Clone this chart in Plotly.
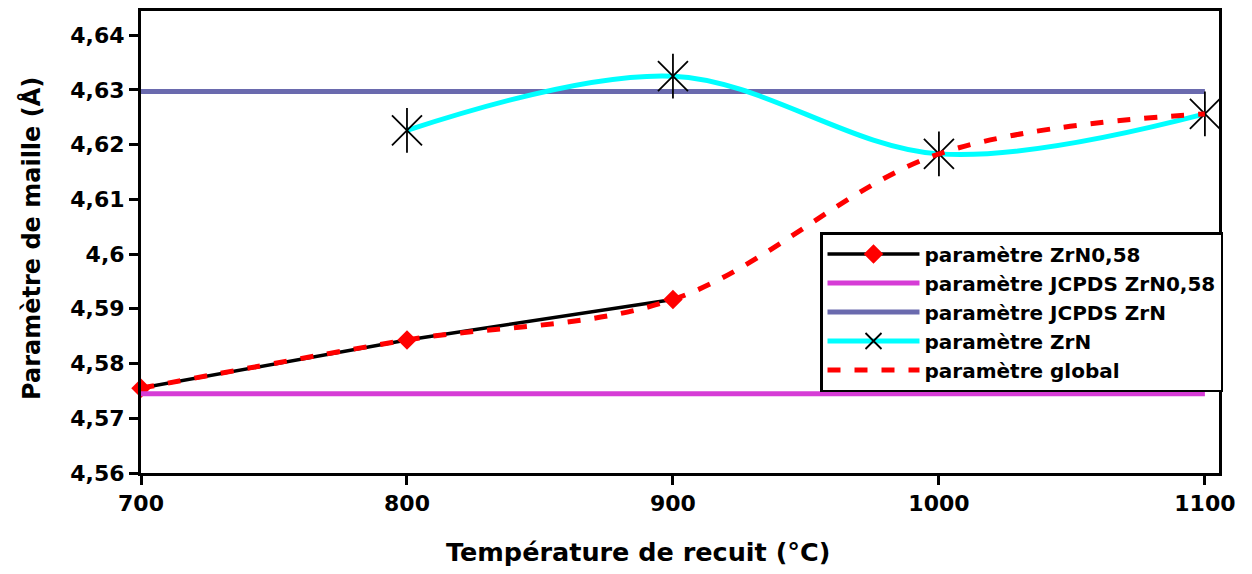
import plotly.graph_objects as go

# ---- data ----
temps = [700, 800, 900, 1000, 1100]
zrn058_x = [700, 800, 900]
zrn058_y = [4.5755, 4.5843, 4.5917]
jcpds_zrn058 = [4.5745, 4.5745, 4.5745, 4.5745, 4.5745]
jcpds_zrn = [4.6297, 4.6297, 4.6297, 4.6297, 4.6297]
zrn_x = [800, 900, 1000, 1100]
zrn_y = [4.6226, 4.6325, 4.6183, 4.6256]
global_y = [4.5755, 4.5843, 4.5917, 4.6183, 4.6256]

y_tickvals = [4.56, 4.57, 4.58, 4.59, 4.60, 4.61, 4.62, 4.63, 4.64]
y_ticktext = ["4,56", "4,57", "4,58", "4,59", "4,6", "4,61", "4,62", "4,63", "4,64"]
x_tickvals = [700, 800, 900, 1000, 1100]

FONT = "DejaVu Sans"
# page body has an 8px default margin; compensate so the plot area lands at 141..1219 x 11..473
OFF = 8
W, H = 1252, 574
L, R, T, B = 141 - OFF, W - (1219 - OFF), 11 - OFF, H - (473 - OFF)
PW, PH = W - L - R, H - T - B

fig = go.Figure()

fig.add_trace(go.Scatter(
    x=zrn058_x, y=zrn058_y, name="paramètre ZrN0,58", mode="lines+markers",
    line=dict(color="black", width=3.5), cliponaxis=False,
    marker=dict(symbol="diamond", color="#FF0000", size=15),
))
fig.add_trace(go.Scatter(
    x=temps, y=jcpds_zrn058, name="paramètre JCPDS ZrN0,58", mode="lines",
    line=dict(color="#D63CD6", width=5),
))
fig.add_trace(go.Scatter(
    x=temps, y=jcpds_zrn, name="paramètre JCPDS ZrN", mode="lines",
    line=dict(color="#6A6AAE", width=5),
))
fig.add_trace(go.Scatter(
    x=zrn_x, y=zrn_y, name="paramètre ZrN", mode="lines+markers",
    line=dict(color="#00FFFF", width=5, shape="spline", smoothing=1),
    marker=dict(symbol="x-thin-open", color="black", size=30,
                line=dict(color="black", width=1.8)),
))
fig.add_trace(go.Scatter(
    x=zrn_x, y=zrn_y, name="", mode="markers", showlegend=False, hoverinfo="skip",
    marker=dict(symbol="line-ns-open", color="black", size=32,
                line=dict(color="black", width=1.8)),
))
fig.add_trace(go.Scatter(
    x=temps, y=global_y, name="paramètre global", mode="lines",
    line=dict(color="#FF0000", width=5, dash="13px,14px", shape="spline", smoothing=1),
))

fig.update_layout(
    width=W, height=H,
    margin=dict(l=L, r=R, t=T, b=B, autoexpand=False),
    paper_bgcolor="white", plot_bgcolor="white",
    separators=", ",
    showlegend=True,
    legend=dict(
        x=(820 - 141) / PW, y=(473 - 232) / PH, xanchor="left", yanchor="top",
        bgcolor="white", bordercolor="black", borderwidth=2.5,
        font=dict(family=FONT, size=20, color="black", weight="bold"),
        itemwidth=92, tracegroupgap=0,
    ),
    font=dict(family=FONT, color="black"),
    annotations=[
        dict(text="Température de recuit (°C)", xref="paper", yref="paper",
             x=(638 - 141) / PW, y=0, yshift=-79, xanchor="center", yanchor="middle",
             showarrow=False,
             font=dict(family=FONT, size=25.5, color="black", weight="bold")),
        dict(text="Paramètre de maille (Å)", xref="paper", yref="paper",
             x=(31 - 141) / PW, y=(473 - 239) / PH, xanchor="center", yanchor="middle",
             textangle=-90, showarrow=False,
             font=dict(family=FONT, size=24, color="black", weight="bold")),
    ],
)

fig.update_xaxes(
    range=[700, 1105.3], tickvals=x_tickvals, automargin=False,
    showline=True, linecolor="black", linewidth=3, mirror=True,
    ticks="outside", ticklen=9, tickwidth=2.5, tickcolor="black",
    showgrid=False, zeroline=False,
    tickfont=dict(family=FONT, size=22, color="black", weight="bold"),
)
fig.update_yaxes(
    range=[4.56, 4.6444], tickvals=y_tickvals, ticktext=y_ticktext, automargin=False,
    showline=True, linecolor="black", linewidth=3, mirror=True,
    ticks="outside", ticklen=9, tickwidth=2.5, tickcolor="black",
    showgrid=False, zeroline=False,
    tickfont=dict(family=FONT, size=22, color="black", weight="bold"),
)

fig.write_html("out.html")
